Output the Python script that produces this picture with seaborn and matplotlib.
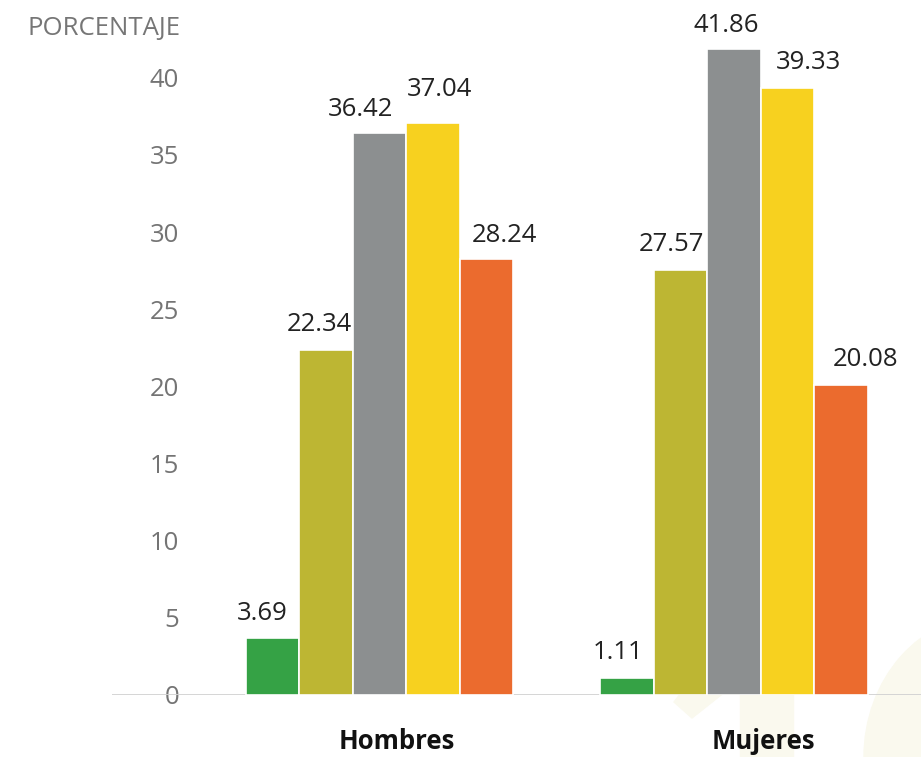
import numpy as np
import pandas as pd
import matplotlib
matplotlib.use("Agg")
import matplotlib.pyplot as plt
import matplotlib.patches as mpatches
from matplotlib.transforms import ScaledTranslation
import seaborn as sns

# data
groups = ["Hombres", "Mujeres"]
levels = ["Nivel 1", "Nivel 2", "Nivel 3", "Nivel 4", "Nivel 5"]
hombres = [3.69, 22.34, 36.42, 37.04, 28.24]
mujeres = [1.11, 27.57, 41.86, 39.33, 20.08]
y_ticks = [0, 5, 10, 15, 20, 25, 30, 35, 40]

colors = ["#35a245", "#bdb633", "#8c8f90", "#f7d11f", "#eb6b2e"]

# label nudges in pixels (to avoid overlaps, as in the original)
label_dx = {"Hombres": [-10, -7, -19, 6, 18], "Mujeres": [-9, -9, -8, 21, 25]}
label_dy = {"Hombres": [18, 19, 17, 27, 17], "Mujeres": [19, 19, 17, 19, 19]}

df = pd.DataFrame({
    "grupo": np.repeat(groups, len(levels)),
    "nivel": levels * len(groups),
    "porcentaje": hombres + mujeres,
})

sns.set_style("white")
plt.rcParams["font.family"] = ["Open Sans", "DejaVu Sans"]

W, H = 921, 757
fig = plt.figure(figsize=(W / 100, H / 100), dpi=100)
ax = fig.add_axes([112 / W, (H - 695) / H, (W - 112) / W, 695 / H])

sns.barplot(data=df, x="grupo", y="porcentaje", hue="nivel", order=groups,
            hue_order=levels, palette=colors, width=0.755, edgecolor="white",
            linewidth=1.2, saturation=1, legend=False, ax=ax, zorder=2)

ax.set_ylim(0, 695 / 15.43)
ax.set_xlim(-0.7546, 1.5275)
sns.despine(ax=ax, left=True, bottom=True)
ax.axhline(0, color="#d2d2d2", lw=1.3, zorder=1)

px = 72 / 100  # points per pixel
ax.set_yticks(y_ticks)
ax.set_yticklabels([str(t) for t in y_ticks])
ax.tick_params(axis="y", length=0, pad=-67 * px, labelsize=18.5, labelcolor="#747474")
ax.tick_params(axis="x", length=0, pad=24, labelsize=18.5, labelcolor="#111111")
for lbl in ax.get_yticklabels():
    lbl.set_zorder(3)
for lbl, dx in zip(ax.get_xticklabels(), [17, 29]):
    lbl.set_fontweight("bold")
    lbl.set_transform(lbl.get_transform() + ScaledTranslation(dx / 100, 0, fig.dpi_scale_trans))
ax.set_xlabel("")
ax.set_ylabel("")

for i, cont in enumerate(ax.containers):
    for j, bar in enumerate(cont):
        g = groups[j]
        x = bar.get_x() + bar.get_width() / 2
        h = bar.get_height()
        ax.annotate(f"{h:.2f}", (x, h),
                    xytext=(label_dx[g][i] * px, label_dy[g][i] * px),
                    textcoords="offset points", ha="center", va="baseline",
                    fontsize=18.5, color="#222222")

fig.text(180 / W, 1 - 28 / H, "PORCENTAJE", ha="right", va="center",
         fontsize=18.5, color="#767676")

# faint watermark in the lower right corner, behind everything
wm = "#faf9ee"
fig.patches.append(mpatches.Rectangle((740 / W, 0), 53 / W, (H - 618) / H,
                                      transform=fig.transFigure, color=wm, zorder=-1))
fig.patches.append(mpatches.Polygon([(674 / W, (H - 702) / H), (740 / W, (H - 618) / H),
                                     (740 / W, (H - 680) / H), (692 / W, (H - 718) / H)],
                                    closed=True, transform=fig.transFigure, color=wm, zorder=-1))
fig.patches.append(mpatches.Ellipse((990 / W, 0), 252 / W, 2 * (H - 615) / H,
                                    transform=fig.transFigure, color=wm, zorder=-1))
ax.patch.set_alpha(0)

fig.savefig("out.png", dpi=100)
